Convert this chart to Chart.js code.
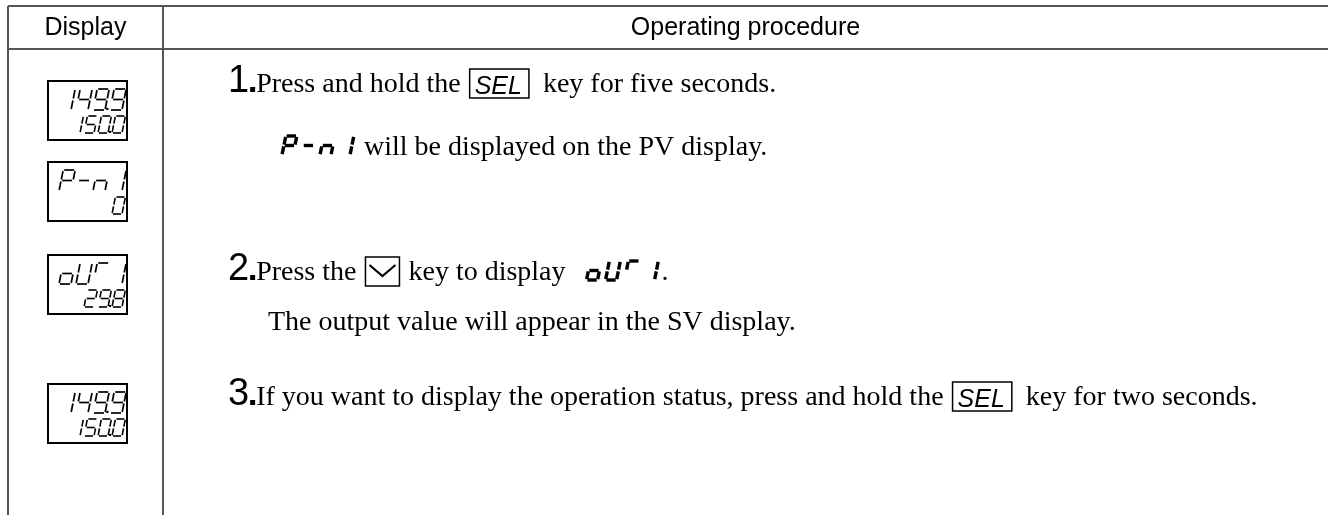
<!DOCTYPE html>
<html>
<head>
<meta charset="utf-8">
<script src="https://cdn.jsdelivr.net/npm/chart.js@4.4.1/dist/chart.umd.min.js"></script>
<style>
  html, body { margin: 0; padding: 0; background: #fff; }
  canvas { display: block; }
</style>
</head>
<body>
<canvas id="sheet" width="1328" height="515"></canvas>
<script>
// table content
const headers = ['Display', 'Operating procedure'];
const pvText = ['149.9', 'P-n1', 'oUr1', '149.9'];   // upper (PV) line of each display
const svText = ['150.0', '0', '29.8', '150.0'];      // lower (SV) line
const stepNums = ['1', '2', '3'];
// t = plain text, k = key box, a = arrow key, s = segment text
const stepLines = [
  [
    [['t', 'Press and hold the '], ['k', 'SEL'], ['t', '  key for five seconds.']],
    [['s', 'P-n1'], ['t', '  will be displayed on the PV display.']]
  ],
  [
    [['t', 'Press the '], ['a', 'down'], ['t', ' key to display '], ['s', 'oUr1'], ['t', ' .']],
    [['t', 'The output value will appear in the SV display.']]
  ],
  [
    [['t', 'If you want to display the operation status, press and hold the '], ['k', 'SEL'], ['t', '  key for two seconds.']]
  ]
];

// layout (page pixels)
const tableLeft = 8, colSplit = 163, tableTop = 6, headBottom = 49;
const boxTops = [81, 162, 255, 384];
const boxLeft = 48, boxW = 79, boxH = 59;
const stepBaselines = [[92, 155], [280, 330], [405]];
const numX = 228, indentX = 268;

const SEGMAP = {
  '0': 'abcdef', '1': 'bc', '2': 'abdeg', '3': 'abcdg', '4': 'bcfg', '5': 'acdfg',
  '6': 'acdefg', '7': 'abc', '8': 'abcdefg', '9': 'abcdfg', 'P': 'abefg', '-': 'g',
  'n': 'ceg', 'o': 'cdeg', 'U': 'bcdef', 'r': 'af', ' ': ''
};
const SEGS = {
  a: [0, 0, 1, 0], b: [1, 0, 1, 0.5], c: [1, 0.5, 1, 1], d: [0, 1, 1, 1],
  e: [0, 0.5, 0, 1], f: [0, 0, 0, 0.5], g: [0, 0.5, 1, 0.5]
};

function parseSeg(str) {
  const out = [];
  for (const ch of str) {
    if (ch === '.' && out.length) out[out.length - 1].dot = true;
    else out.push({ c: ch, dot: false });
  }
  return out;
}

// draws a seven segment string, returns its width
function drawSeg(ctx, str, x, yb, h, w, pitch, lw, right, gapK) {
  const chars = parseSeg(str);
  const total = chars.length * pitch;
  const x0 = right ? x - total : x;
  const k = 0.2;
  const gap = lw * gapK;
  ctx.save();
  ctx.strokeStyle = '#000';
  ctx.fillStyle = '#000';
  ctx.lineWidth = lw;
  ctx.lineCap = 'butt';
  chars.forEach((ch, i) => {
    const cx = x0 + i * pitch + (pitch - w);
    const pt = (u, v) => [cx + u * w + k * (1 - v) * h, yb - h + v * h];
    for (const s of (SEGMAP[ch.c] || '')) {
      const [u1, v1, u2, v2] = SEGS[s];
      let [x1, y1] = pt(u1, v1);
      let [x2, y2] = pt(u2, v2);
      const len = Math.hypot(x2 - x1, y2 - y1);
      const dx = (x2 - x1) / len * gap, dy = (y2 - y1) / len * gap;
      ctx.beginPath();
      ctx.moveTo(x1 + dx, y1 + dy);
      ctx.lineTo(x2 - dx, y2 - dy);
      ctx.stroke();
    }
    if (ch.dot) {
      const d = lw * 1.3;
      ctx.fillRect(cx + w + (pitch - w) * 0.25, yb - d, d, d);
    }
  });
  ctx.restore();
  return total;
}

const tablePlugin = {
  id: 'tablePlugin',
  afterDraw(chart) {
    const ctx = chart.ctx;
    const X = v => chart.scales.x.getPixelForValue(v);
    const Y = v => chart.scales.y.getPixelForValue(v);

    // grid lines
    ctx.save();
    ctx.strokeStyle = '#555';
    ctx.lineWidth = 2;
    ctx.beginPath();
    ctx.moveTo(X(tableLeft), Y(tableTop)); ctx.lineTo(X(1328), Y(tableTop));
    ctx.moveTo(X(tableLeft), Y(headBottom)); ctx.lineTo(X(1328), Y(headBottom));
    ctx.moveTo(X(tableLeft), Y(tableTop)); ctx.lineTo(X(tableLeft), Y(515));
    ctx.moveTo(X(colSplit), Y(tableTop)); ctx.lineTo(X(colSplit), Y(515));
    ctx.stroke();

    // header
    ctx.fillStyle = '#000';
    ctx.font = '25px "Liberation Sans", Arial, sans-serif';
    ctx.textAlign = 'center';
    ctx.textBaseline = 'middle';
    ctx.fillText(headers[0], X((tableLeft + colSplit) / 2), Y(28));
    ctx.fillText(headers[1], X((colSplit + 1328) / 2), Y(28));

    // display boxes
    boxTops.forEach((top, i) => {
      ctx.strokeStyle = '#000';
      ctx.lineWidth = 2;
      ctx.strokeRect(X(boxLeft), Y(top), boxW, boxH);
      const r = X(boxLeft + boxW - 5);
      drawSeg(ctx, pvText[i], r, Y(top + 29), 21, 12, 17, 1.7, true, 0.6);
      drawSeg(ctx, svText[i], r, Y(top + 52), 17, 10, 14, 1.6, true, 0.6);
    });

    // steps
    ctx.textAlign = 'left';
    ctx.textBaseline = 'alphabetic';
    stepLines.forEach((lines, si) => {
      lines.forEach((parts, li) => {
        const base = Y(stepBaselines[si][li]);
        let x;
        if (li === 0) {
          ctx.font = '38px "Liberation Sans", Arial, sans-serif';
          ctx.fillText(stepNums[si], X(numX), base);
          x = X(numX) + ctx.measureText(stepNums[si]).width;
          ctx.fillRect(x + 1, base - 5, 5, 5);
          x += 7;
        } else {
          x = X(indentX);
        }
        for (const [kind, val] of parts) {
          if (kind === 't') {
            ctx.font = '28px "Liberation Serif", "Times New Roman", serif';
            ctx.fillText(val, x, base);
            x += ctx.measureText(val).width;
          } else if (kind === 'k') {
            ctx.font = 'italic 25px "Liberation Sans", Arial, sans-serif';
            const tw = ctx.measureText(val).width;
            const bw = tw + 12;
            ctx.lineWidth = 1.5;
            ctx.strokeRect(x + 2, base - 23, bw, 29);
            ctx.fillText(val, x + 7, base + 2);
            x += bw + 2;
          } else if (kind === 'a') {
            ctx.lineWidth = 1.5;
            ctx.strokeRect(x + 2, base - 23, 34, 29);
            ctx.lineWidth = 2.2;
            ctx.beginPath();
            ctx.moveTo(x + 6, base - 15);
            ctx.lineTo(x + 19, base - 4);
            ctx.lineTo(x + 32, base - 15);
            ctx.stroke();
            x += 38;
          } else if (kind === 's') {
            x += 6;
            x += drawSeg(ctx, val, x, base, 19, 11, 19, 3.4, false, 0.25);
          }
        }
      });
    });
    ctx.restore();
  }
};

new Chart(document.getElementById('sheet'), {
  type: 'scatter',
  data: { datasets: [{ data: [] }] },
  options: {
    responsive: false,
    animation: false,
    layout: { padding: 0 },
    plugins: { legend: { display: false }, tooltip: { enabled: false } },
    scales: {
      x: { type: 'linear', min: 0, max: 1328, display: false },
      y: { type: 'linear', min: 0, max: 515, reverse: true, display: false }
    }
  },
  plugins: [tablePlugin]
});
</script>
</body>
</html>
